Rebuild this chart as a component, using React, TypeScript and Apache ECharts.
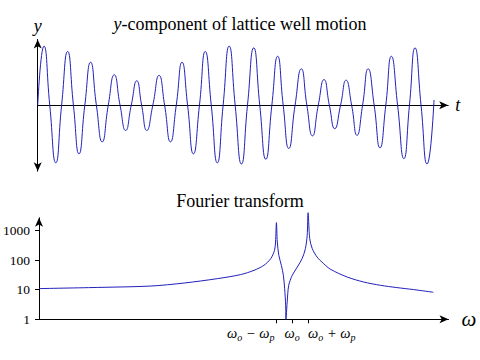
import React, { useEffect, useRef } from "react";
import * as echarts from "echarts";

// ---- Top panel: y-component of lattice well motion (t in carrier cycles, y normalised) ----
const tTop = [
  0, 0.27, 0.52, 0.78, 1.03, 1.29, 1.54, 1.78, 2.03, 2.28, 2.53, 2.78, 3.04, 3.3, 3.55, 3.79, 4.03,
  4.27, 4.48, 4.7, 4.96, 5.23, 5.47, 5.72, 5.97, 6.22, 6.46, 6.71, 6.97, 7.22, 7.48, 7.74, 7.99,
  8.25, 8.51, 8.78, 9.04, 9.31, 9.57, 9.83, 10.09, 10.34, 10.58, 10.82, 11.09, 11.36, 11.6, 11.84,
  12.09, 12.34, 12.57, 12.8, 13.05, 13.29, 13.53, 13.76, 14.0, 14.24, 14.5, 14.75, 15.0, 15.24,
  15.51, 15.78, 16.02, 16.26, 16.52, 16.78, 17.08,
];
const yTop = [
  0, 0.99, 0, -0.96, 0, 0.9, 0, -0.81, 0, 0.72, 0, -0.61, 0, 0.51, 0, -0.42, 0,
  0.41, 0, -0.42, 0, 0.5, 0, -0.61, 0, 0.72, 0, -0.81, 0, 0.9, 0, -0.96, 0,
  0.99, 0, -0.98, 0, 0.96, 0, -0.9, 0, 0.82, 0, -0.72, 0, 0.61, 0, -0.51,
  0, 0.43, 0, -0.39, 0, 0.42, 0, -0.5, 0, 0.61, 0, -0.71, 0, 0.82,
  0, -0.89, 0, 0.96, 0, -0.98, 0.09,
];

// ---- Bottom panel: Fourier transform (omega in units of omega_o) ----
const omega = [
  0, 0.245, 0.442, 0.573, 0.705, 0.796, 0.849, 0.888, 0.915, 0.93, 0.934, 0.9375, 0.941, 0.947,
  0.957, 0.965, 0.97, 0.974, 0.975, 0.98, 0.986, 1.0, 1.02, 1.039, 1.052, 1.059, 1.0625, 1.069,
  1.079, 1.098, 1.124, 1.151, 1.217, 1.282, 1.348, 1.413, 1.479, 1.557,
];
const spectrum = [
  10.9, 12, 13.3, 16.8, 23.7, 32.4, 45.2, 66.7, 112, 214, 408, 1850, 408, 145,
  66.7, 30.6, 10.9, 3, 1, 3.8, 14, 30.6, 58.5, 112, 245, 690, 4000, 532,
  245, 127, 76, 49, 26.8, 18.2, 14.1, 11.8, 10.1, 8.2,
];
const omegaTicks = [0.9375, 1, 1.0625];
const omegaTickLabels = ["ωo − ωp", "ωo", "ωo + ωp"];
const logTicks = [1, 10, 100, 1000];

const FONT = "Liberation Serif, Times New Roman, serif";
const BLUE = "#2020bb";

// turn "ωo − ωp" into rich text with subscripts
const toRich = (s: string) =>
  s
    .split(" ")
    .map((part) => {
      if (part.length === 2 && part[0] === "ω") return `{w|ω}{s|${part[1]}}`;
      return `{w| ${part} }`;
    })
    .join("");

export default function App() {
  const ref = useRef<HTMLDivElement>(null);
  useEffect(() => {
    if (!ref.current) return;
    const chart = echarts.init(ref.current, null, { renderer: "svg" });
    const axisLine = (symbol: string[]) => ({
      show: true,
      symbol,
      symbolSize: [6, 9],
      lineStyle: { color: "#000", width: 1 },
    });
    const rich = {
      w: { fontFamily: FONT, fontSize: 14.5, fontStyle: "italic", color: "#000", lineHeight: 16, verticalAlign: "top" },
      s: { fontFamily: FONT, fontSize: 10, fontStyle: "italic", color: "#000", lineHeight: 10, padding: [7, 0, 0, 0], verticalAlign: "top" },
      g: { width: 2 },
    };
    const aligns = ["right", "center", "left"];
    const labelAxes = omegaTicks.map((tick, i) => ({
      type: "value",
      gridIndex: 1,
      position: "bottom",
      offset: 0,
      min: 0,
      max: 1.617,
      axisLine: { show: false, onZero: false },
      axisTick: { show: false },
      splitLine: { show: false },
      axisLabel: {
        show: true,
        customValues: [tick],
        margin: 6,
        align: aligns[i],
        hideOverlap: false,
        formatter: () => toRich(omegaTickLabels[i]) + (i === 0 ? "{g| }" : ""),
        rich,
      },
    }));
    chart.setOption({
      animation: false,
      title: [
        {
          text: "{i|y}{n|-component of lattice well motion}",
          left: "center",
          top: 15,
          padding: [0, 0, 0, 9],
          textStyle: {
            fontFamily: FONT,
            fontSize: 18,
            fontWeight: "normal",
            color: "#000",
            rich: {
              i: { fontFamily: FONT, fontSize: 18, fontStyle: "italic", color: "#000" },
              n: { fontFamily: FONT, fontSize: 18, color: "#000" },
            },
          },
        },
        {
          text: "Fourier transform",
          left: "center",
          top: 192,
          padding: [0, 0, 0, 9],
          textStyle: { fontFamily: FONT, fontSize: 18, fontWeight: "normal", color: "#000" },
        },
      ],
      grid: [
        { left: 37.7, top: 39.5, width: 410.5, height: 131.7 },
        { left: 37.7, top: 217.8, width: 410.8, height: 101.5 },
      ],
      xAxis: [
        {
          type: "value",
          gridIndex: 0,
          min: 0,
          max: 17.69,
          name: "t",
          nameLocation: "end",
          nameGap: 7,
          nameTextStyle: { fontFamily: FONT, fontSize: 18, fontStyle: "italic", color: "#000" },
          axisLine: { ...axisLine(["none", "arrow"]), onZero: true },
          axisTick: { show: false },
          axisLabel: { show: false },
          splitLine: { show: false },
        },
        {
          type: "value",
          gridIndex: 1,
          position: "bottom",
          min: 0,
          max: 1.617,
          name: "ω",
          nameLocation: "end",
          nameGap: 13,
          nameTextStyle: { fontFamily: FONT, fontSize: 21, fontStyle: "italic", color: "#000" },
          axisLine: { ...axisLine(["none", "arrow"]), onZero: false },
          axisTick: { show: true, customValues: omegaTicks, length: 4, lineStyle: { color: "#000" } },
          axisLabel: { show: false },
          splitLine: { show: false },
        },
        ...labelAxes,
      ],
      yAxis: [
        {
          type: "value",
          gridIndex: 0,
          min: -1.1,
          max: 1.1,
          name: "y",
          nameLocation: "end",
          nameGap: 5,
          nameTextStyle: { fontFamily: FONT, fontSize: 18, fontStyle: "italic", color: "#000", align: "center" },
          axisLine: { ...axisLine(["arrow", "arrow"]), onZero: false },
          axisTick: { show: false },
          axisLabel: { show: false },
          splitLine: { show: false },
        },
        {
          type: "log",
          gridIndex: 1,
          logBase: 10,
          min: 1,
          max: 2690,
          axisLine: { ...axisLine(["none", "arrow"]), onZero: false },
          axisTick: { show: true, customValues: logTicks, length: 4, lineStyle: { color: "#000" } },
          axisLabel: {
            show: true,
            customValues: logTicks,
            margin: 9,
            fontFamily: FONT,
            fontSize: 13.5,
            color: "#000",
            formatter: (v: number) => String(Math.round(v)),
          },
          splitLine: { show: false },
          minorTick: { show: false },
        },
      ],
      series: [
        {
          type: "line",
          xAxisIndex: 0,
          yAxisIndex: 0,
          data: tTop.map((t, i) => [t, yTop[i]]),
          smooth: 0.55,
          showSymbol: false,
          lineStyle: { color: BLUE, width: 1 },
        },
        {
          type: "line",
          xAxisIndex: 1,
          yAxisIndex: 1,
          data: omega.map((w, i) => [w, spectrum[i]]),
          smooth: 0.3,
          clip: false,
          showSymbol: false,
          lineStyle: { color: BLUE, width: 1 },
        },
      ],
    });
    return () => chart.dispose();
  }, []);
  return (
    <div
      ref={ref}
      style={{ position: "absolute", left: 0, top: 0, width: 480, height: 360, background: "#fff" }}
    />
  );
}
